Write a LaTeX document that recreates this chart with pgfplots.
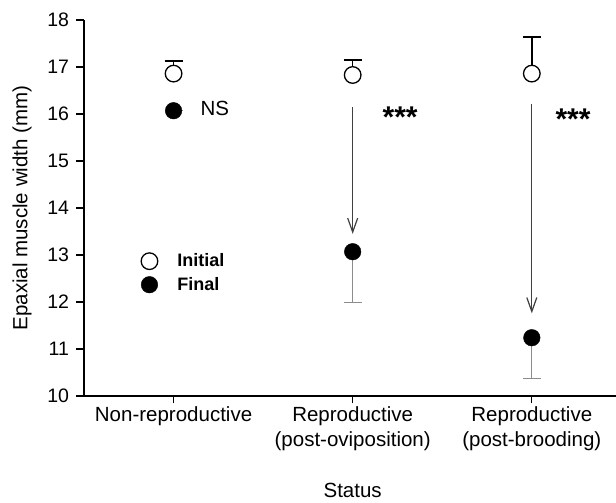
\documentclass[border=0pt]{standalone}
\usepackage{fontspec}
\setmainfont{Liberation Sans}
\usepackage{pgfplots}
\pgfplotsset{compat=1.18}
\usetikzlibrary{arrows.meta}
\definecolor{ebgray}{HTML}{8C8C8C}
\definecolor{arrgray}{HTML}{404040}
\begin{document}
\begin{tikzpicture}
\begin{axis}[
  at={(0pt,0pt)}, anchor=south west,
  scale only axis, width=532pt, height=376pt,
  xmin=-0.5, xmax=2.47, ymin=10, ymax=18,
  axis x line*=bottom, axis y line*=left,
  axis line style={line width=1.5pt, black},
  xtick={0,1,2},
  xticklabels={Non-reproductive, {Reproductive\\(post-oviposition)}, {Reproductive\\(post-brooding)}},
  xticklabel style={align=center, font=\fontsize{20.5}{25}\selectfont},
  ytick={10,11,...,18},
  yticklabel style={font=\fontsize{19.5}{22}\selectfont, xshift=-4pt},
  /pgf/number format/assume math mode=true,
  tick align=outside, major tick length=7.5pt,
  tick style={line width=1.2pt, black},
  xlabel={Status}, ylabel={Epaxial muscle width (mm)},
  xlabel style={at={(axis description cs:0.505,0)}, anchor=center, yshift=-94pt, font=\fontsize{20.5}{24}\selectfont},
  ylabel style={at={(axis description cs:-0.1165,0.5)}, anchor=center, font=\fontsize{20.5}{24}\selectfont},
  clip=false,
  legend style={at={(axis cs:-0.182,13.07)}, anchor=north west, draw=none, fill=none,
    font=\bfseries\fontsize{18}{20}\selectfont, row sep=5pt, inner sep=0pt},
  legend cell align=left,
  legend image code/.code={\path[draw=none,fill=none] (0pt,-9pt) rectangle (34pt,9pt); \draw[#1] plot coordinates {(8pt,0pt)};},
]
% error bars (drawn first, behind the markers)
\addplot[forget plot, only marks, mark=none, draw=none,
  error bars/.cd, y dir=plus, y explicit,
  error bar style={line width=1.4pt, black},
  error mark options={rotate=90, mark size=9pt, line width=1.4pt, black}]
  coordinates {(0,16.86) +- (0,0.27) (1,16.83) +- (0,0.32) (2,16.86) +- (0,0.78)};
\addplot[forget plot, only marks, mark=none, draw=none,
  error bars/.cd, y dir=minus, y explicit,
  error bar style={line width=0.9pt, ebgray},
  error mark options={rotate=90, mark size=9pt, line width=0.9pt, ebgray}]
  coordinates {(0,16.07) +- (0,0) (1,13.07) +- (0,1.07) (2,11.24) +- (0,0.87)};
% Initial (open circles)
\addplot[only marks, mark=*, black, mark size=8.3pt, mark options={line width=1.3pt, draw=black, fill=white}]
  coordinates {(0,16.86) (1,16.83) (2,16.86)};
% Final (filled circles)
\addplot[only marks, mark=*, black, mark size=8.3pt]
  coordinates {(0,16.07) (1,13.07) (2,11.24)};
\legend{Initial, Final}
\draw[line width=1pt, arrgray, -{Straight Barb[length=14pt,width=10pt,line width=1.2pt]}] (axis cs:1,16.15) -- (axis cs:1,13.45);
\draw[line width=1pt, arrgray, -{Straight Barb[length=14pt,width=10pt,line width=1.2pt]}] (axis cs:2,16.22) -- (axis cs:2,11.76);
\node[font=\fontsize{20.5}{24}\selectfont, anchor=center] at (axis cs:0.23,16.12) {NS};
\node[font=\bfseries\fontsize{30}{32}\selectfont, anchor=north, inner sep=0pt] at (axis cs:1.265,16.16) {***};
\node[font=\bfseries\fontsize{30}{32}\selectfont, anchor=north, inner sep=0pt] at (axis cs:2.23,16.11) {***};
\end{axis}
\pgfresetboundingbox
\useasboundingbox (-84pt,-107pt) rectangle (532pt,396pt);
\end{tikzpicture}
\end{document}
